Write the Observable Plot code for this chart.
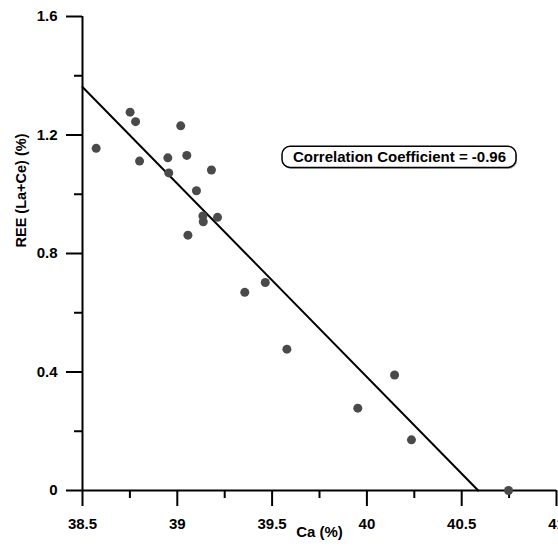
<!DOCTYPE html>
<html>
<head>
<meta charset="utf-8">
<script src="https://cdn.jsdelivr.net/npm/d3@7"></script>
<script src="https://cdn.jsdelivr.net/npm/@observablehq/plot@0.6"></script>
<style>
  body { margin: 0; background: #fff; }
</style>
</head>
<body>
<div id="chart"></div>
<script>
const ca = [38.572, 38.751, 38.780, 39.018, 38.801, 38.950, 39.050, 38.955, 39.180, 39.101, 39.135, 39.137, 39.212, 39.056, 39.356, 39.464, 39.578, 40.146, 39.952, 40.235, 40.747];
const ree = [1.155, 1.277, 1.245, 1.231, 1.112, 1.123, 1.131, 1.072, 1.082, 1.012, 0.927, 0.907, 0.922, 0.862, 0.669, 0.702, 0.477, 0.390, 0.278, 0.171, 0.0];

const fitX = [38.5, 40.587];
const fitY = [1.362, 0.0];

const xMajor = [38.5, 39, 39.5, 40, 40.5, 41];
const xMinor = [38.75, 39.25, 39.75, 40.25, 40.75];
const yMajor = [0, 0.4, 0.8, 1.2, 1.6];
const yMinor = [0.2, 0.6, 1.0, 1.4];
const xTickLabels = ["38.5", "39", "39.5", "40", "40.5", "41"];
const yTickLabels = ["0", "0.4", "0.8", "1.2", "1.6"];

const xTitle = "Ca (%)";
const yTitle = "REE (La+Ce) (%)";
const annoText = ["Correlation Coefficient = -0.96"];
const annoX = [40.172];
const annoY = [1.124];
const annoBoxX = [39.555, 40.789];
const annoBoxY = [1.089, 1.160];

const points = ca.map((c, i) => ({ca: c, ree: ree[i]}));
const fit = fitX.map((x, i) => ({x, y: fitY[i]}));
const anno = annoText.map((t, i) => ({text: t, x: annoX[i], y: annoY[i], x1: annoBoxX[0], x2: annoBoxX[1], y1: annoBoxY[0], y2: annoBoxY[1]}));
const xTicks = xMajor.map((v, i) => ({v, label: xTickLabels[i]}));
const yTicks = yMajor.map((v, i) => ({v, label: yTickLabels[i]}));

const plot = Plot.plot({
  width: 558,
  height: 550,
  marginLeft: 82,
  marginRight: 2,
  marginTop: 16,
  marginBottom: 60,
  style: {fontFamily: "'Liberation Sans', Arial, sans-serif", fontSize: "15px", color: "#000", background: "#fff"},
  x: {domain: [38.5, 41], axis: null},
  y: {domain: [0, 1.6], axis: null},
  marks: [
    // x ticks
    Plot.ruleX(xMinor, {x: d => d, y1: 0, y2: 0, insetBottom: -8, stroke: "#000", strokeWidth: 2}),
    Plot.ruleX(xMajor, {x: d => d, y1: 0, y2: 0, insetBottom: -16, stroke: "#000", strokeWidth: 2}),
    // y ticks
    Plot.ruleY(yMinor, {y: d => d, x1: 38.5, x2: 38.5, insetLeft: -8, stroke: "#000", strokeWidth: 2}),
    Plot.ruleY(yMajor, {y: d => d, x1: 38.5, x2: 38.5, insetLeft: -16, stroke: "#000", strokeWidth: 2}),
    // tick labels
    Plot.text(xTicks, {x: "v", frameAnchor: "bottom", lineAnchor: "top", dy: 28, text: "label", fontSize: 15, fontWeight: "bold", fill: "#000"}),
    Plot.text(yTicks, {y: "v", frameAnchor: "left", textAnchor: "end", dx: -25, text: "label", fontSize: 15, fontWeight: "bold", fill: "#000"}),
    // axis lines
    Plot.ruleY([0], {strokeWidth: 2, stroke: "#000"}),
    Plot.ruleX([38.5], {strokeWidth: 2, stroke: "#000"}),
    // data
    Plot.line(fit, {x: "x", y: "y", stroke: "#000", strokeWidth: 2}),
    Plot.dot(points, {x: "ca", y: "ree", r: 4.5, fill: "#4a4a4a"}),
    // annotation
    Plot.rect(anno, {x1: "x1", x2: "x2", y1: "y1", y2: "y2", dx: 1, dy: 1.5, rx: 8, ry: 8, fill: "#bbb"}),
    Plot.rect(anno, {x1: "x1", x2: "x2", y1: "y1", y2: "y2", rx: 8, ry: 8, fill: "#fff", stroke: "#000", strokeWidth: 1.5}),
    Plot.text(anno, {x: "x", y: "y", text: "text", fontSize: 15, fontWeight: "bold", fill: "#000"}),
    // axis titles
    Plot.text([xTitle], {frameAnchor: "bottom", dy: 46, text: d => d, fontSize: 15, fontWeight: "bold", fill: "#000"}),
    Plot.text([yTitle], {frameAnchor: "left", dx: -61, dy: -6, rotate: -90, text: d => d, fontSize: 14.5, fontWeight: "bold", fill: "#000"})
  ]
});
document.getElementById("chart").appendChild(plot);
</script>
</body>
</html>
